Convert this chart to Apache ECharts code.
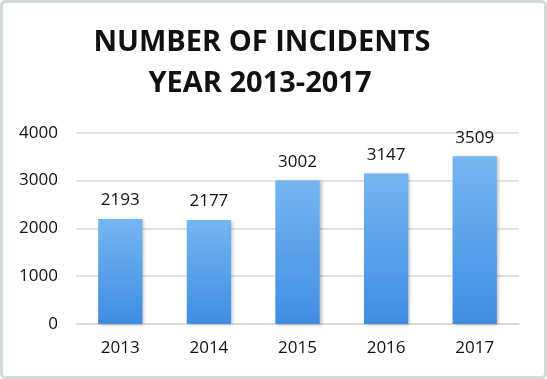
<!DOCTYPE html>
<html><head><meta charset="utf-8">
<script src="https://cdn.jsdelivr.net/npm/echarts@6/dist/echarts.min.js"></script>
<style>html,body{margin:0;padding:0;background:#fff;}#c{width:547px;height:379px;}</style>
</head><body><div id="c"></div>
<script>
const categories = ['2013','2014','2015','2016','2017'];
const incidents = [2193, 2177, 3002, 3147, 3509];
const yTicks = [0, 1000, 2000, 3000, 4000];
const titleLines = ['NUMBER OF INCIDENTS', 'YEAR 2013-2017'];

const chart = echarts.init(document.getElementById('c'));
const font = '"Open Sans", sans-serif';
chart.setOption({
  backgroundColor: '#fff',
  animation: false,
  graphic: [
    {type:'rect', shape:{x:1.5,y:1.5,width:544,height:376,r:4}, style:{fill:'none', stroke:'#d3dbda', lineWidth:3}, z:100},
    {type:'text', x:262, y:43, style:{text:titleLines[0], font:'bold 29px ' + font, fill:'#111', textAlign:'center', textVerticalAlign:'middle'}},
    {type:'text', x:260, y:84, style:{text:titleLines[1], font:'bold 29px ' + font, fill:'#111', textAlign:'center', textVerticalAlign:'middle'}}
  ],
  grid: {left:76, right:28, top:132.7, bottom:55, containLabel:false},
  xAxis: {
    type:'category', data:categories,
    axisLine:{show:true, lineStyle:{color:'#d9d9d9', width:1.5}},
    axisTick:{show:false},
    axisLabel:{color:'#111', fontSize:17, fontFamily:font, margin:16}
  },
  yAxis: {
    type:'value', min:yTicks[0], max:yTicks[yTicks.length-1], interval:1000,
    axisLine:{show:false}, axisTick:{show:false},
    splitLine:{lineStyle:{color:'#d9d9d9', width:1.5}},
    axisLabel:{color:'#111', fontSize:17, fontFamily:font, margin:18, formatter: v => String(v)}
  },
  series: [{
    type:'bar', data:incidents, barWidth:'50%',
    itemStyle:{
      color: new echarts.graphic.LinearGradient(0,0,0,1,[{offset:0,color:'#74b6f0'},{offset:1,color:'#3f8de4'}]),
      shadowColor:'rgba(0,0,0,0.25)', shadowBlur:3, shadowOffsetX:2, shadowOffsetY:1
    },
    label:{show:true, position:'top', distance:10, color:'#111', fontSize:17, fontFamily:font}
  }]
});
</script></body></html>
